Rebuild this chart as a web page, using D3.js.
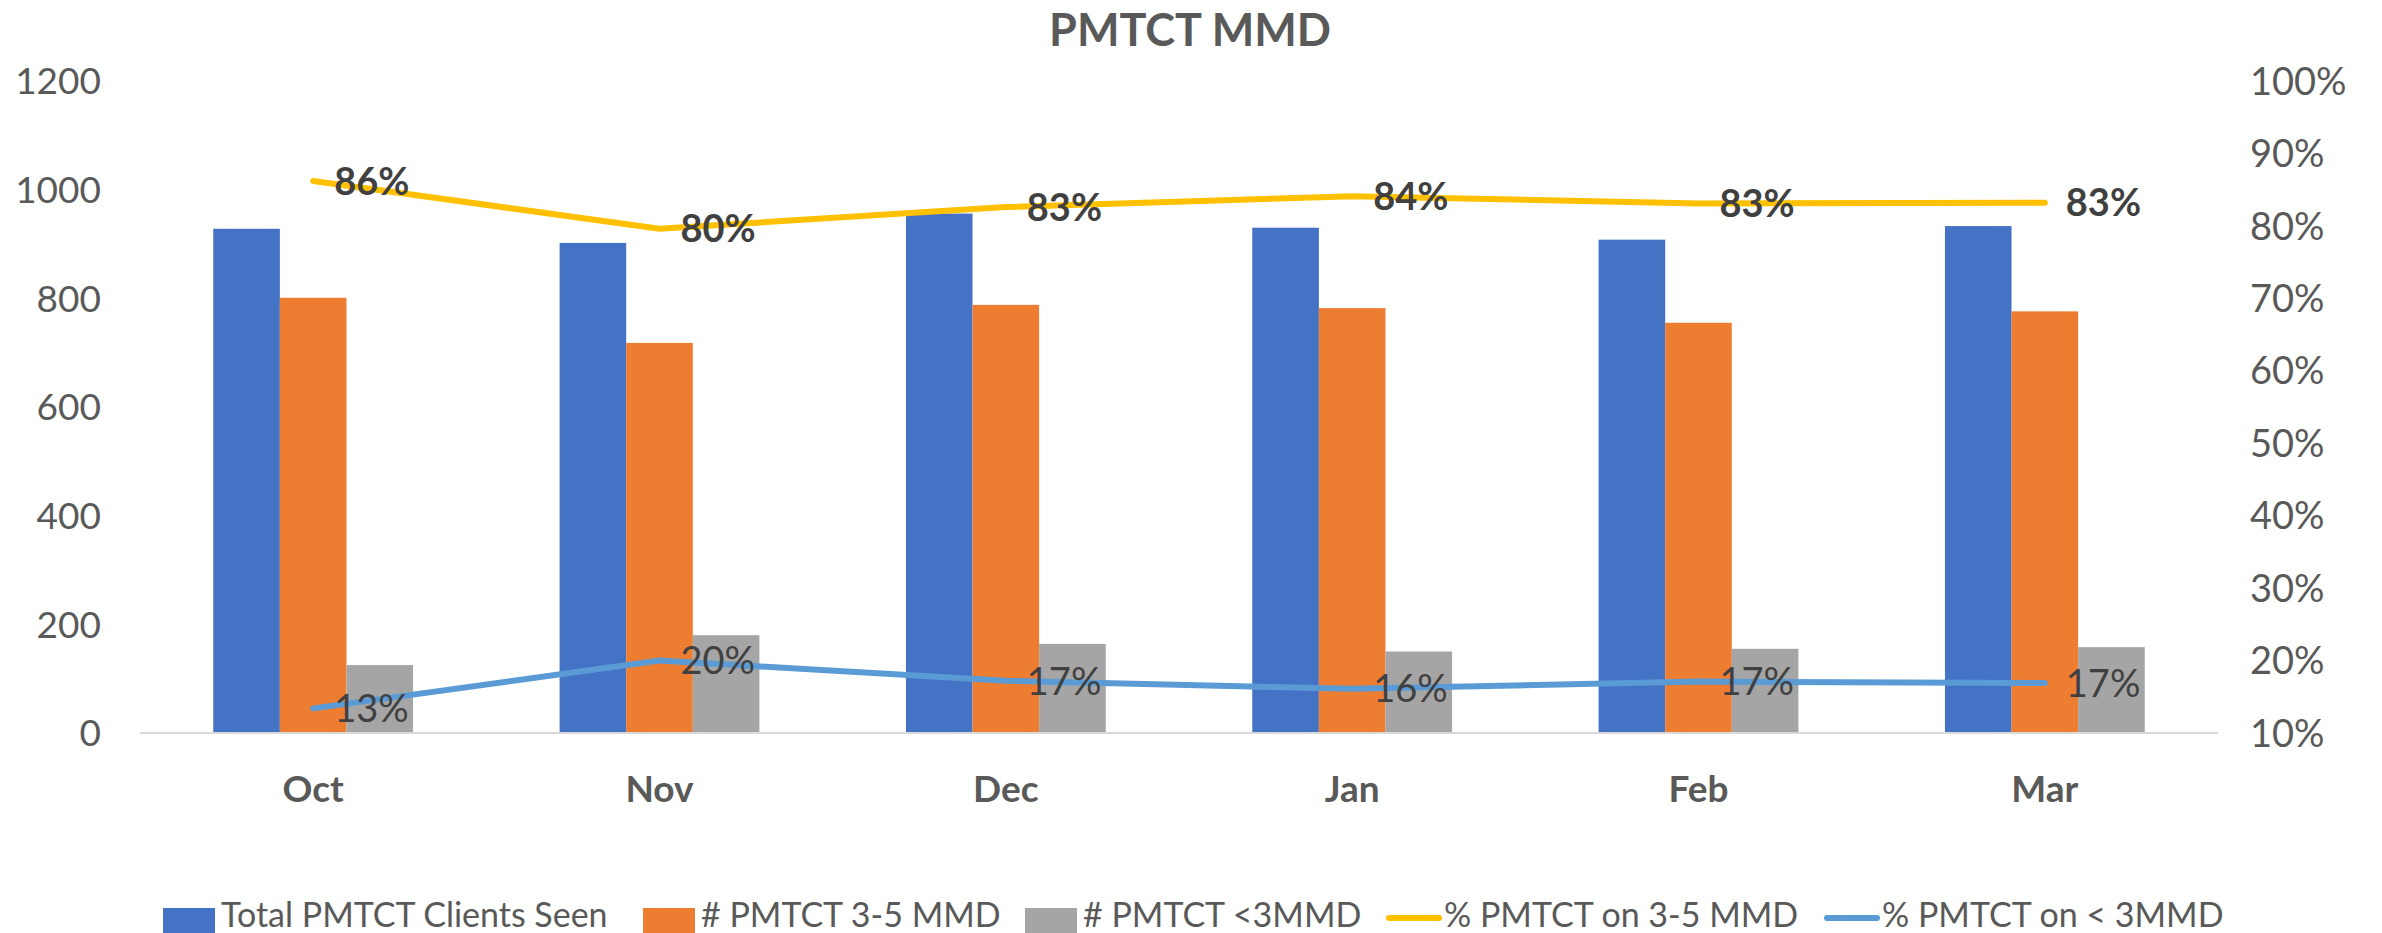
<!DOCTYPE html>
<html lang="en">
<head>
  <meta charset="UTF-8">
  <title>PMTCT MMD</title>
  <script src="https://d3js.org/d3.v7.min.js"></script>
  <style>
    body { margin: 0; background: #fff; }
    svg { display: block; font-family: Lato, "Open Sans", sans-serif; }
    .tick-label { fill: #595959; font-size: 37px; }
    .cat-label { fill: #595959; font-size: 37px; font-weight: bold; }
    .legend text { fill: #595959; font-size: 34px; }
  </style>
</head>
<body>
  <svg width="2382" height="933"></svg>

  <script>
    // data
    const months = ["Oct", "Nov", "Dec", "Jan", "Feb", "Mar"];
    const totalSeen = [928, 902, 956, 930, 908, 933];
    const mmd35 = [801, 718, 788, 782, 755, 776];
    const mmdLt3 = [125, 180, 164, 150, 155, 158];
    const pctOn35 = [0.862, 0.796, 0.826, 0.841, 0.831, 0.832];
    const pctOnLt3 = [0.134, 0.200, 0.172, 0.161, 0.171, 0.169];
    const leftTicks = [0, 200, 400, 600, 800, 1000, 1200];
    const rightTicks = [0.1, 0.2, 0.3, 0.4, 0.5, 0.6, 0.7, 0.8, 0.9, 1.0];

    const barSeries = [
      { name: "Total PMTCT Clients Seen", values: totalSeen, color: "#4472C4" },
      { name: "# PMTCT 3-5 MMD", values: mmd35, color: "#ED7D31" },
      { name: "# PMTCT <3MMD", values: mmdLt3, color: "#A5A5A5" }
    ];
    const lineSeries = [
      { name: "% PMTCT on 3-5 MMD", values: pctOn35, color: "#FFC000", bold: true },
      { name: "% PMTCT on < 3MMD", values: pctOnLt3, color: "#5B9BD5", bold: false }
    ];

    const svg = d3.select("svg");
    const plot = { left: 140, right: 2218, top: 81, bottom: 733 };

    const x = d3.scaleBand()
                .domain(months)
                .range([plot.left, plot.right]);

    const x1 = d3.scaleBand()
                 .domain(barSeries.map(s => s.name))
                 .range([0, x.bandwidth()])
                 .paddingOuter(1.1);

    const yLeft = d3.scaleLinear().domain([0, 1200]).range([plot.bottom, plot.top]);
    const yRight = d3.scaleLinear().domain([0.1, 1.0]).range([plot.bottom, plot.top]);

    // title
    svg.append("text")
      .attr("x", 1190).attr("y", 46)
      .attr("text-anchor", "middle")
      .style("font-size", "45px").style("font-weight", "bold")
      .style("fill", "#595959")
      .text("PMTCT MMD");

    // bars
    const groups = svg.selectAll(".grp")
      .data(months)
      .enter().append("g")
      .attr("class", "grp")
      .attr("transform", d => `translate(${x(d)},0)`);

    groups.selectAll("rect")
      .data((m, i) => barSeries.map(s => ({ key: s.name, v: s.values[i], color: s.color })))
      .enter().append("rect")
      .attr("x", d => x1(d.key))
      .attr("width", x1.bandwidth())
      .attr("y", d => yLeft(d.v))
      .attr("height", d => yLeft(0) - yLeft(d.v))
      .attr("fill", d => d.color);

    // category axis line
    svg.append("line")
      .attr("x1", plot.left).attr("x2", plot.right)
      .attr("y1", plot.bottom).attr("y2", plot.bottom)
      .attr("stroke", "#d9d9d9").attr("stroke-width", 2);

    svg.selectAll(".cat-label")
      .data(months)
      .enter().append("text")
      .attr("class", "cat-label")
      .attr("x", d => x(d) + x.bandwidth() / 2)
      .attr("y", 802)
      .attr("text-anchor", "middle")
      .text(d => d);

    // left axis labels
    svg.selectAll(".yl")
      .data(leftTicks)
      .enter().append("text")
      .attr("class", "tick-label yl")
      .attr("x", 101)
      .attr("y", d => yLeft(d))
      .attr("dy", "0.36em")
      .attr("text-anchor", "end")
      .text(d => d);

    // right axis labels
    svg.selectAll(".yr")
      .data(rightTicks)
      .enter().append("text")
      .attr("class", "tick-label yr")
      .attr("x", 2250)
      .attr("y", d => yRight(d))
      .attr("dy", "0.36em")
      .attr("text-anchor", "start")
      .style("font-size", "38px")
      .text(d => d3.format(".0%")(d));

    // lines
    const cx = m => x(m) + x.bandwidth() / 2;
    const line = d3.line()
      .x((d, i) => cx(months[i]))
      .y(d => yRight(d));

    for (const s of lineSeries) {
      svg.append("path")
        .attr("d", line(s.values))
        .attr("fill", "none")
        .attr("stroke", s.color)
        .attr("stroke-width", 6)
        .attr("stroke-linecap", "round")
        .attr("stroke-linejoin", "round");
    }

    for (const s of lineSeries) {
      svg.selectAll(null)
        .data(s.values)
        .enter().append("text")
        .attr("x", (d, i) => cx(months[i]) + 21)
        .attr("y", d => yRight(d))
        .attr("dy", "0.36em")
        .style("font-size", "38px")
        .style("font-weight", s.bold ? "bold" : "normal")
        .style("fill", "#404040")
        .text(d => d3.format(".0%")(d));
    }

    // legend
    const legend = svg.append("g").attr("class", "legend");
    const legendItems = [
      { s: barSeries[0], x: 163, type: "bar" },
      { s: barSeries[1], x: 643, type: "bar" },
      { s: barSeries[2], x: 1025, type: "bar" },
      { s: lineSeries[0], x: 1386, type: "line" },
      { s: lineSeries[1], x: 1824, type: "line" }
    ];
    for (const it of legendItems) {
      if (it.type === "bar") {
        legend.append("rect")
          .attr("x", it.x).attr("y", 908)
          .attr("width", 52).attr("height", 30)
          .attr("fill", it.s.color);
      } else {
        legend.append("line")
          .attr("x1", it.x + 3).attr("x2", it.x + 53)
          .attr("y1", 918).attr("y2", 918)
          .attr("stroke", it.s.color).attr("stroke-width", 6)
          .attr("stroke-linecap", "round");
      }
      legend.append("text")
        .attr("x", it.x + 58)
        .attr("y", 927)
        .text(it.s.name);
    }
  </script>
</body>
</html>
